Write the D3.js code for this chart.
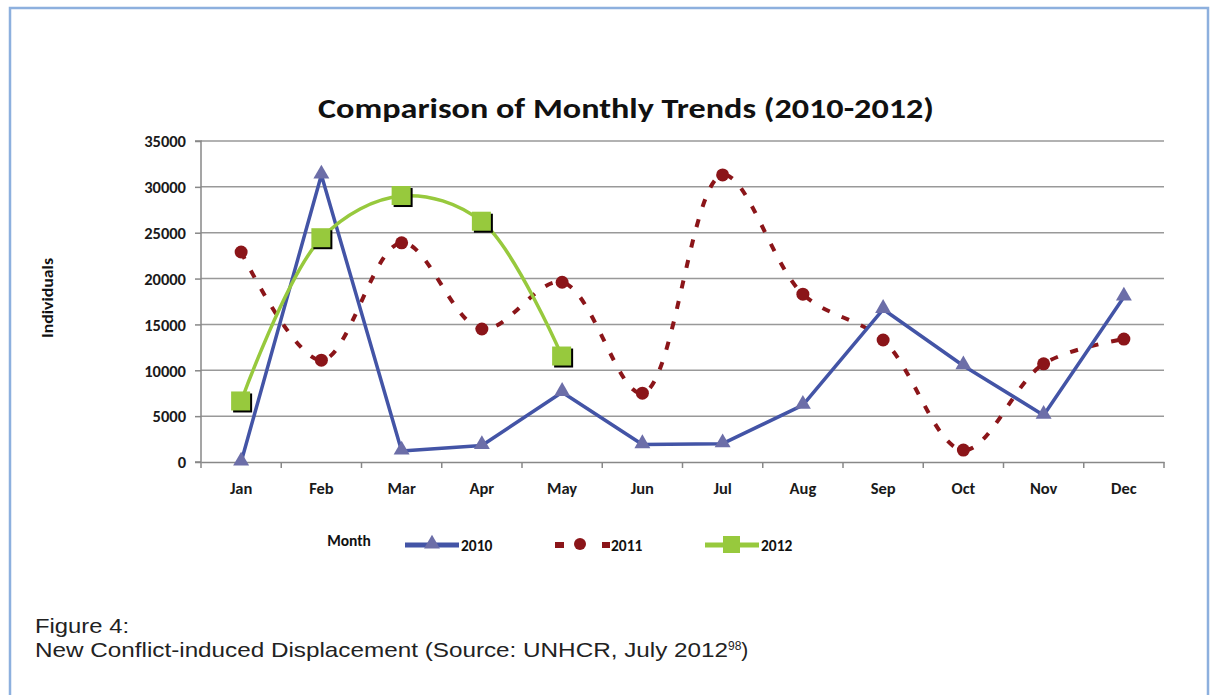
<!DOCTYPE html>
<html><head><meta charset="utf-8">
<script src="https://cdn.jsdelivr.net/npm/d3@7/dist/d3.min.js"></script>
<style>body{margin:0;background:#fff}svg{display:block}</style>
</head><body>
<svg id="c" width="1214" height="695"></svg>
<script>
const months = ["Jan","Feb","Mar","Apr","May","Jun","Jul","Aug","Sep","Oct","Nov","Dec"];
const s2010 = [0,31300,1200,1800,7600,1900,2000,6200,16650,10500,5100,18000];
const s2011 = [22900,11100,23900,14500,19600,7500,31300,18300,13300,1300,10700,13400];
const s2012 = [6600,24400,29000,26200,11500];
const yTicks = [0,5000,10000,15000,20000,25000,30000,35000];

const svg = d3.select("#c");
// frame
svg.append("path").attr("d","M10,700 V8 H1208 V700").attr("fill","none").attr("stroke","#8db0de").attr("stroke-width",2.5);

const L=201,R=1164,T=141,B=462;
const x = d3.scaleBand().domain(months).range([L,R]);
const y = d3.scaleLinear().domain([0,35000]).range([B,T]);
const cx = m => x(m)+x.bandwidth()/2;
const font = "Carlito, 'Open Sans', 'Liberation Sans', sans-serif";

// gridlines
svg.append("g").selectAll("line").data(yTicks.slice(1)).join("line")
  .attr("x1",L).attr("x2",R).attr("y1",d=>y(d)).attr("y2",d=>y(d))
  .attr("stroke","#999").attr("stroke-width",1.5);

// y axis
const ya = svg.append("g").attr("transform",`translate(${L},0)`)
  .call(d3.axisLeft(y).tickValues(yTicks).tickSize(6).tickPadding(9).tickFormat(d3.format("d")));
ya.select(".domain").attr("stroke","#888").attr("stroke-width",1.5).attr("d",`M-6,${T}H0V${B}H-6`);
ya.selectAll(".tick line").attr("stroke","#888").attr("stroke-width",1.5);
ya.selectAll("text").attr("font-family",font).attr("font-weight","bold").attr("font-size",16.5).attr("fill","#1a1a1a").attr("dy","0.35em");

// x axis
const xa = svg.append("g").attr("transform",`translate(0,${B})`)
  .call(d3.axisBottom(x).tickSize(0).tickPadding(20));
xa.select(".domain").attr("stroke","#888").attr("stroke-width",1.5);
xa.selectAll("text").attr("font-family",font).attr("font-weight","bold").attr("font-size",16.5).attr("fill","#1a1a1a");
const bounds = months.map(m=>x(m)).concat([R]);
svg.append("g").selectAll("line").data(bounds).join("line")
  .attr("x1",d=>d).attr("x2",d=>d).attr("y1",B).attr("y2",B+6)
  .attr("stroke","#888").attr("stroke-width",1.5);

// title
svg.append("text").attr("x",626).attr("y",118).attr("text-anchor","middle")
  .attr("font-family",font).attr("font-weight","bold").attr("font-size",28).attr("fill","#111")
  .attr("textLength",616).attr("lengthAdjust","spacingAndGlyphs")
  .text("Comparison of Monthly Trends (2010-2012)");
// axis titles
svg.append("text").attr("transform","translate(53,298) rotate(-90)").attr("text-anchor","middle")
  .attr("font-family",font).attr("font-weight","bold").attr("font-size",16).attr("fill","#111")
  .attr("textLength",80).attr("lengthAdjust","spacingAndGlyphs").text("Individuals");
svg.append("text").attr("x",349).attr("y",546).attr("text-anchor","middle")
  .attr("font-family",font).attr("font-weight","bold").attr("font-size",15.5).attr("fill","#111").text("Month");

// lines
const c2010="#4354a6", m2010="#6c6ea8", c2011="#8b1519", c2012="#97c93d";
const line = d3.line().x((d,i)=>cx(months[i])).y(d=>y(d));
const sline = d3.line().x((d,i)=>cx(months[i])).y(d=>y(d)).curve(d3.curveCatmullRom.alpha(0.5));

svg.append("path").attr("d",sline(s2011)).attr("fill","none").attr("stroke",c2011).attr("stroke-width",4)
  .attr("stroke-dasharray","8,13");
svg.append("path").attr("d",line(s2010)).attr("fill","none").attr("stroke",c2010).attr("stroke-width",3.5).attr("stroke-linejoin","round");
svg.append("path").attr("d",sline(s2012)).attr("fill","none").attr("stroke",c2012).attr("stroke-width",3.5);

const tri = d3.symbol().type(d3.symbolTriangle).size(110);
// markers 2011
svg.append("g").selectAll("circle").data(s2011).join("circle")
  .attr("cx",(d,i)=>cx(months[i])).attr("cy",d=>y(d)).attr("r",6.5).attr("fill",c2011);
// markers 2010
svg.append("g").selectAll("path").data(s2010).join("path")
  .attr("d",tri).attr("transform",(d,i)=>`translate(${cx(months[i])},${y(d)-1})`).attr("fill",m2010);
// markers 2012
const g12 = svg.append("g");
g12.selectAll("rect.sh").data(s2012).join("rect").attr("class","sh")
  .attr("x",(d,i)=>cx(months[i])-8).attr("y",d=>y(d)-8).attr("width",19).attr("height",19).attr("fill","#000");
g12.selectAll("rect.fg").data(s2012).join("rect").attr("class","fg")
  .attr("x",(d,i)=>cx(months[i])-10).attr("y",d=>y(d)-10).attr("width",19).attr("height",19).attr("fill",c2012);

// legend
const lg = svg.append("g");
const ly=545;
const lt = (xx,t)=>lg.append("text").attr("x",xx).attr("y",ly+6).attr("font-family",font).attr("font-weight","bold").attr("font-size",15.5).attr("fill","#111").text(t);
lg.append("line").attr("x1",405).attr("x2",459).attr("y1",ly).attr("y2",ly).attr("stroke",c2010).attr("stroke-width",5);
lg.append("path").attr("d",tri).attr("transform",`translate(432,${ly-1})`).attr("fill",m2010);
lt(461,"2010");
lg.append("rect").attr("x",555).attr("y",ly-3).attr("width",9).attr("height",6).attr("fill",c2011);
lg.append("circle").attr("cx",580).attr("cy",ly-1).attr("r",6).attr("fill",c2011);
lg.append("rect").attr("x",602).attr("y",ly-3).attr("width",8).attr("height",6).attr("fill",c2011);
lt(611,"2011");
lg.append("line").attr("x1",705).attr("x2",759).attr("y1",ly).attr("y2",ly).attr("stroke",c2012).attr("stroke-width",5);
lg.append("rect").attr("x",723).attr("y",ly-9).attr("width",17).attr("height",17).attr("fill",c2012);
lt(761,"2012");

// caption
const capFont = "'Liberation Sans', Arial, sans-serif";
svg.append("text").attr("x",35).attr("y",633).attr("font-family",capFont).attr("font-size",21).attr("fill","#222")
  .attr("textLength",94).attr("lengthAdjust","spacingAndGlyphs").text("Figure 4:");
const cap = svg.append("text").attr("x",35).attr("y",657).attr("font-family",capFont).attr("font-size",21).attr("fill","#222");
cap.append("tspan").attr("textLength",693).attr("lengthAdjust","spacingAndGlyphs").text("New Conflict-induced Displacement (Source: UNHCR, July 2012");
cap.append("tspan").attr("font-size",12).attr("dy",-7).text("98");
cap.append("tspan").attr("dy",7).text(")");
</script>
</body></html>
